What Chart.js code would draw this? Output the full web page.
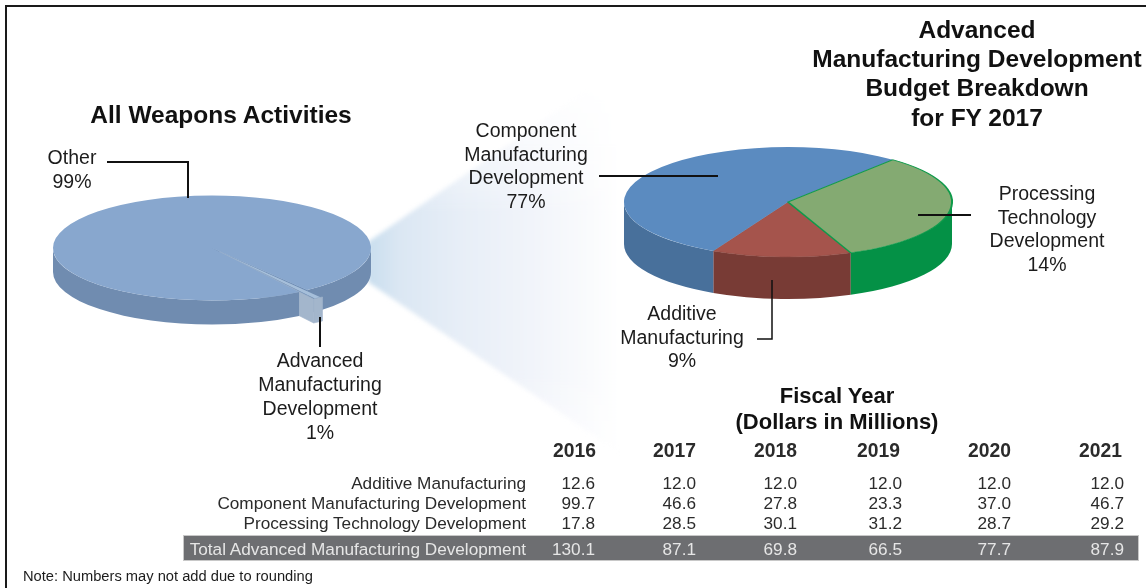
<!DOCTYPE html>
<html><head><meta charset="utf-8">
<script src="https://cdn.jsdelivr.net/npm/chart.js@4"></script>
<style>
html,body{margin:0;padding:0;background:#fff;width:1146px;height:588px;overflow:hidden;font-family:"Liberation Sans",Arial,sans-serif;color:#1c1c1c}
#stage{position:relative;width:1146px;height:588px;overflow:hidden}
#frame{position:absolute;left:5px;top:5px;width:1141px;height:583px;border-left:2px solid #1a1a1a;border-top:2px solid #1a1a1a;box-sizing:border-box}
#fanWrap{position:absolute;left:0;top:0;width:1146px;height:588px;filter:blur(2px)}
#fan{position:absolute;left:368px;top:60px;width:262px;height:400px;
 clip-path:polygon(0 182px,262px 0,262px 400px,0 222px);
 background:linear-gradient(to right,#c9deee 0,#dbe7f3 12%,#e7eef7 35%,#f1f4fa 62%,#fafbfd 85%,#fff 96%);
 -webkit-mask-image:linear-gradient(to bottom,transparent 5%,#000 38%,#000 78%,rgba(0,0,0,.55) 100%);
 mask-image:linear-gradient(to bottom,transparent 5%,#000 38%,#000 78%,rgba(0,0,0,.55) 100%)}
canvas{position:absolute;display:block}
#leaders{position:absolute;left:0;top:0}
#texts{position:absolute;left:0;top:0;width:1146px;height:588px;filter:blur(0.3px)}
.t{position:absolute;white-space:nowrap;transform:translate(-50%,-50%);line-height:1}
.r{transform:translate(-100%,-50%)}
.lab{font-size:19.5px}
.ttl{font-size:24.5px;font-weight:bold;color:#111}
.row{font-size:17.2px;color:#2b2b2b}
.yr{font-size:19.3px;font-weight:bold;color:#2b2b2b}
#band{position:absolute;left:183px;top:535px;width:956px;height:26px;background:#6d6e71;border:1px solid #c8c8c8;box-sizing:border-box}
</style></head>
<body>
<div id="stage">
 <div id="frame"></div>
 <div id="fanWrap"><div id="fan"></div></div>
 <canvas id="weapons" width="420" height="420" style="left:2px;top:38px"></canvas>
 <canvas id="budget" width="400" height="400" style="left:588px;top:2px"></canvas>
 <svg id="leaders" width="1146" height="588" fill="none" stroke="#111">
  <polyline stroke-width="2" points="107,162 188,162 188,198"/>
  <polyline stroke-width="2" points="320,317 320,347"/>
  <polyline stroke-width="2" points="599,176 718,176"/>
  <polyline stroke-width="2" points="918,215 971,215"/>
  <polyline stroke-width="1.5" points="772,280 772,339 757,339"/>
 </svg>
 <div id="band"></div>
 <div id="texts"></div>
</div>
<script>
// ---- data ----
const years = ["2016","2017","2018","2019","2020","2021"];
const additive = [12.6,12.0,12.0,12.0,12.0,12.0];
const component = [99.7,46.6,27.8,23.3,37.0,46.7];
const processing = [17.8,28.5,30.1,31.2,28.7,29.2];
const totals = [130.1,87.1,69.8,66.5,77.7,87.9];
const rowNames = ["Additive Manufacturing","Component Manufacturing Development","Processing Technology Development"];
const totalName = "Total Advanced Manufacturing Development";
const weaponsLabels = ["Advanced Manufacturing Development","Other"];
const weaponsShare = [1,99];
const budgetLabels = ["Additive Manufacturing","Component Manufacturing Development","Processing Technology Development"];
const budgetFY2017 = [additive[1],component[1],processing[1]];

// ---- extruded-pie plugin: squashes the library's arcs and adds side walls ----
function wall(ctx,a,k,d,color,from,to){
  const r=a.outerRadius;
  for(let n=-1;n<=2;n++){
    const lo=Math.max(from,n*2*Math.PI), hi=Math.min(to,n*2*Math.PI+Math.PI);
    if(hi<=lo) continue;
    ctx.beginPath();
    ctx.ellipse(a.x,a.y,r,r*k,0,lo,hi);
    ctx.ellipse(a.x,a.y+d,r,r*k,0,hi,lo,true);
    ctx.closePath();
    ctx.fillStyle=color;ctx.fill();
  }
}
function quad(ctx,p,color){
  ctx.beginPath();ctx.moveTo(p[0][0],p[0][1]);
  for(let i=1;i<p.length;i++)ctx.lineTo(p[i][0],p[i][1]);
  ctx.closePath();ctx.fillStyle=color;ctx.fill();
  ctx.strokeStyle=color;ctx.lineWidth=0.6;ctx.stroke();
}
const extrude={
  id:'extrude',
  beforeDatasetsDraw(chart,_,o){
    const ctx=chart.ctx,arcs=chart.getDatasetMeta(0).data,k=o.k,d=o.depth;
    if(o.exploded!==undefined){
      const w=arcs[o.exploded],m=arcs[1-o.exploded];
      const off=(w.options.offset||0)/4,mid=(w.startAngle+w.endAngle)/2;
      const tx=w.x+off*Math.cos(mid),ty=w.y+off*k*Math.sin(mid),R=w.outerRadius+off;
      const a1=w.startAngle,a2=w.endAngle;
      // main slice: right part of the wall and far cut wall
      wall(ctx,m,k,d,o.sides[1-o.exploded],a1-Math.PI/2,a1);
      const px=m.x+m.outerRadius*Math.cos(a1),py=m.y+m.outerRadius*k*Math.sin(a1);
      quad(ctx,[[m.x,m.y],[px,py],[px,py+d],[m.x,m.y+d]],o.cutWall);
      // exploded slice faces
      const e2x=tx+R*Math.cos(a2),e2y=ty+R*k*Math.sin(a2);
      quad(ctx,[[tx,ty],[e2x,e2y],[e2x,e2y+d],[tx,ty+d]],o.face);
      ctx.beginPath();
      ctx.ellipse(tx,ty,R,R*k,0,a1,a2);
      ctx.ellipse(tx,ty+d,R,R*k,0,a2,a1,true);
      ctx.closePath();ctx.fillStyle=o.sides[o.exploded];ctx.fill();
      ctx.strokeStyle=o.sides[o.exploded];ctx.lineWidth=0.6;ctx.stroke();
      // main slice: left part of the wall
      wall(ctx,m,k,d,o.sides[1-o.exploded],a2,a2+Math.PI);
    }else{
      arcs.forEach((a,i)=>wall(ctx,a,k,d,o.sides[i],a.startAngle,a.endAngle));
    }
    const a=arcs[0];
    ctx.save();
    ctx.translate(a.x,a.y);ctx.scale(1,k);ctx.translate(-a.x,-a.y);
  },
  afterDatasetsDraw(chart){ chart.ctx.restore(); }
};
function pie(id,labels,data,colors,borders,bw,offsets,rotation,radius,ext){
  return new Chart(document.getElementById(id),{
    type:'pie',
    data:{labels,datasets:[{data,backgroundColor:colors,borderColor:borders,borderWidth:bw,offset:offsets,hoverOffset:0}]},
    options:{responsive:false,animation:false,rotation,radius,
      layout:{padding:0},events:[],
      plugins:{legend:{display:false},tooltip:{enabled:false},extrude:ext}},
    plugins:[extrude]
  });
}
pie('weapons',weaponsLabels,weaponsShare,['#a6bfda','#88a7ce'],['#a6bfda','#88a7ce'],0,[52,0],143.2,159,
  {k:0.33,depth:24,exploded:0,sides:['#a3b6cc','#708cb0'],cutWall:'#6c8bb3',face:'#a3b6cc'});
pie('budget',budgetLabels,budgetFY2017,['#a5544c','#5b8bc0','#84aa72'],['#8f4a43','#5b8bc0','#0e9a4a'],[1,0,2],[0,0,0],157.5,164,
  {k:0.335,depth:42,sides:['#783b35','#48709b','#049146']});

// ---- text ----
const host=document.getElementById('texts');
function put(s,x,y,cls,extra){
  const e=document.createElement('div');e.className='t '+cls;e.textContent=s;
  e.style.left=x+'px';e.style.top=y+'px';
  if(extra)Object.assign(e.style,extra);host.appendChild(e);
  return e;
}
function stack(lines,x,ys,cls,extra){lines.forEach((l,i)=>put(l,x,ys[i],cls,extra));}
stack(["All Weapons Activities"],221,[115],'ttl');
stack(["Advanced","Manufacturing Development","Budget Breakdown","for FY 2017"],977,[30,59,88,118],'ttl');
stack(["Other","99%"],72,[157.5,181.5],'lab');
stack(["Advanced","Manufacturing","Development","1%"],320,[361,385,409,432.5],'lab');
stack(["Component","Manufacturing","Development","77%"],526,[130.5,154.5,178,201.5],'lab');
stack(["Processing","Technology","Development","14%"],1047,[193.5,217.5,241,264.5],'lab');
stack(["Additive","Manufacturing","9%"],682,[313.5,337.5,360.5],'lab');
stack(["Fiscal Year","(Dollars in Millions)"],837,[396,422],'ttl',{fontSize:'22px'});
const hdrRight=[596,696,797,900,1011,1122], valRight=[595,696,797,902,1011,1124];
years.forEach((y,i)=>put(y,hdrRight[i],451,'r yr'));
const rows=[additive,component,processing], rowY=[483.8,503.8,523.8];
rows.forEach((vals,r)=>{
  put(rowNames[r],526,rowY[r],'r row');
  vals.forEach((v,i)=>put(v.toFixed(1),valRight[i],rowY[r],'r row'));
});
put(totalName,526,549.8,'r row',{color:'#e6e6e6'});
totals.forEach((v,i)=>put(v.toFixed(1),valRight[i],549.8,'r row',{color:'#e6e6e6'}));
put("Note: Numbers may not add due to rounding",23,576,'',{fontSize:'14.7px',transform:'translate(0,-50%)'});
</script>
</body></html>
